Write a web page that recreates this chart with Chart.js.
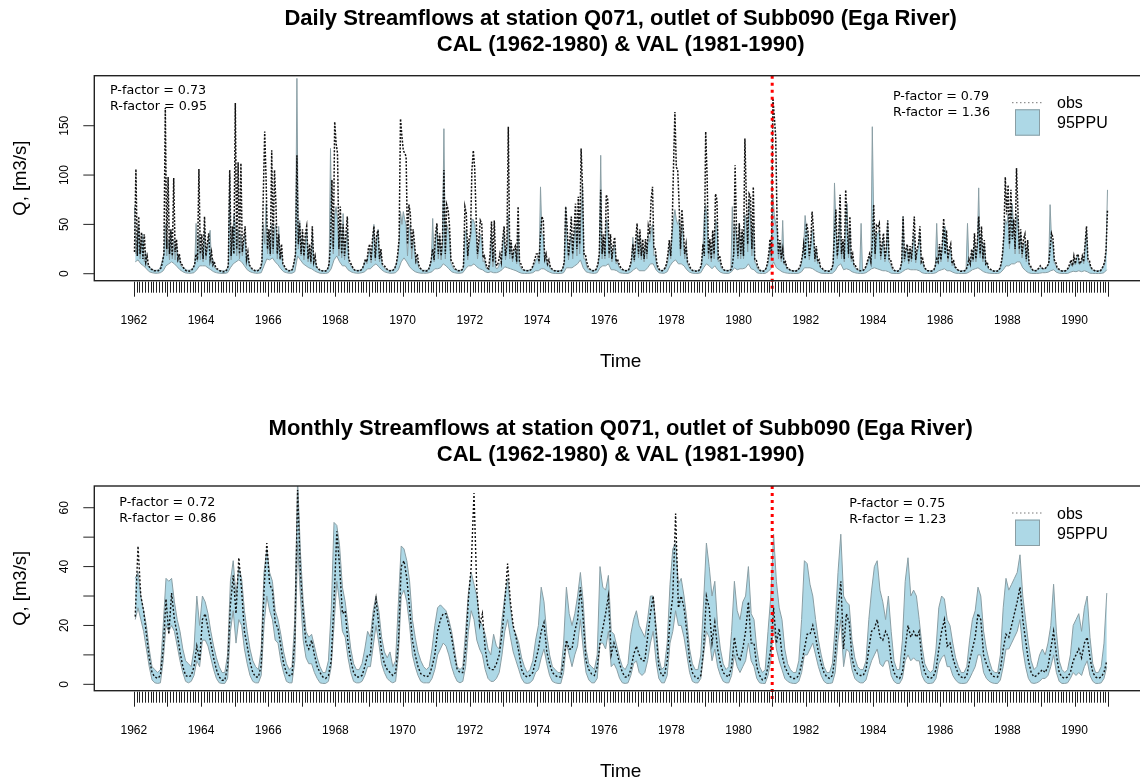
<!DOCTYPE html>
<html lang="en">
<head>
    <meta charset="UTF-8">
    <title>Streamflows Q071 - Ega River</title>
    <script src="https://cdn.jsdelivr.net/npm/chart.js"></script>
    <style>
        body, html {
            margin: 0;
            padding: 0;
            background: #fff;
            overflow: hidden;
            width: 1140px;
            height: 782px;
        }
        canvas {
            position: absolute;
            left: 0;
        }
        #daily { top: 0; }
        #monthly { top: 391px; }
    </style>
</head>
<body>
    <canvas id="daily" width="1160" height="391"></canvas>
    <canvas id="monthly" width="1160" height="391"></canvas>

    <script>
        // ---- data ----
        const firstYear = 1962;
        const splitYear = 1981;   // start of validation period
        const yearLabels = [1962, 1964, 1966, 1968, 1970, 1972, 1974, 1976, 1978, 1980, 1982, 1984, 1986, 1988, 1990];

        const dailyTitle = ['Daily Streamflows at station Q071, outlet of Subb090 (Ega River)', 'CAL (1962-1980) & VAL (1981-1990)'];
        const monthlyTitle = ['Monthly Streamflows at station Q071, outlet of Subb090 (Ega River)', 'CAL (1962-1980) & VAL (1981-1990)'];
        const dailyStats = ['P-factor = 0.73', 'R-factor = 0.95', 'P-factor = 0.79', 'R-factor = 1.36'];
        const monthlyStats = ['P-factor = 0.72', 'R-factor = 0.86', 'P-factor = 0.75', 'R-factor = 1.23'];
        const legendLabels = ['obs', '95PPU'];

        const dailyYTicks = [0, 50, 100, 150];
        const dailyYLabels = ['0', '50', '100', '150'];
        const monthlyYTicks = [0, 10, 20, 30, 40, 50, 60];
        const monthlyYLabels = ['0', '', '20', '', '40', '', '60'];

        // daily flows, one row per year (half-month steps), m3/s
        const dailyObs = [
            [22, 106, 18, 58, 20, 42, 15, 40, 12, 18, 8, 6, 4.5, 4, 3, 3, 3, 3, 4, 6, 12, 20, 168, 25],
            [98, 20, 45, 18, 97, 22, 35, 15, 20, 10, 9, 6, 4, 3, 3, 2.5, 3, 4, 6, 10, 20, 14, 106, 20],
            [40, 15, 58, 18, 30, 41, 14, 22, 9, 12, 6, 5, 4, 3, 2.5, 2, 2, 2.5, 4, 8, 105, 18, 48, 20],
            [173, 25, 113, 20, 112, 22, 35, 48, 14, 22, 9, 7, 5, 4, 3, 3, 3, 4, 6, 12, 81, 144, 95, 25],
            [45, 20, 125, 25, 105, 71, 20, 40, 15, 30, 10, 8, 5, 4, 3, 3, 3, 5, 12, 20, 120, 30, 51, 20],
            [45, 18, 40, 48, 15, 30, 12, 48, 12, 18, 7, 6, 4, 3, 3, 2.5, 2.5, 3, 5, 10, 30, 95, 25, 154],
            [132, 122, 25, 68, 20, 50, 18, 40, 58, 15, 12, 9, 6, 4, 3, 3, 3, 3, 4, 6, 10, 15, 12, 25],
            [30, 14, 35, 48, 16, 40, 44, 15, 25, 10, 9, 7, 5, 4, 3, 3, 3, 4, 6, 10, 20, 35, 157, 139],
            [125, 122, 119, 30, 70, 61, 25, 45, 31, 14, 20, 9, 6, 4, 3, 3, 2.5, 3, 4, 8, 15, 25, 14, 40],
            [51, 20, 41, 18, 35, 105, 20, 70, 65, 48, 14, 12, 8, 5, 4, 3, 3, 3, 4, 8, 68, 61, 18, 35],
            [40, 105, 125, 107, 58, 20, 35, 54, 51, 16, 18, 10, 6, 5, 20, 53, 12, 54, 10, 8, 12, 20, 12, 35],
            [48, 18, 30, 149, 20, 34, 15, 25, 28, 12, 68, 12, 10, 6, 4, 3, 3, 3, 3, 4, 6, 10, 15, 20],
            [20, 12, 40, 58, 54, 15, 20, 10, 14, 7, 5, 4, 3, 3, 2.5, 2.5, 2.5, 3, 6, 12, 68, 48, 18, 35],
            [58, 20, 45, 71, 25, 78, 30, 127, 88, 20, 20, 12, 7, 5, 4, 3, 3, 3, 5, 10, 20, 85, 20, 40],
            [18, 80, 75, 20, 40, 15, 30, 37, 12, 15, 10, 7, 5, 4, 3, 3, 3, 4, 8, 15, 30, 14, 35, 51],
            [20, 45, 18, 35, 15, 35, 20, 48, 40, 75, 88, 25, 25, 12, 6, 4, 3, 3, 4, 6, 10, 20, 34, 18],
            [45, 108, 164, 108, 105, 71, 25, 65, 45, 20, 30, 12, 10, 6, 4, 3, 3, 2.5, 2.5, 3, 5, 10, 30, 18],
            [144, 98, 20, 35, 15, 44, 20, 81, 75, 16, 18, 10, 6, 4, 3, 3, 3, 3, 4, 8, 20, 110, 44, 18],
            [51, 20, 45, 18, 137, 78, 30, 81, 78, 25, 88, 15, 15, 8, 5, 3, 2.5, 2.5, 3, 5, 10, 20, 35, 18],
            [178, 159, 139, 51, 20, 34, 15, 25, 10, 12, 6, 6, 4, 3, 3, 2.5, 2.5, 3, 4, 6, 10, 18, 30, 15],
            [51, 44, 18, 30, 63, 44, 15, 28, 12, 14, 7, 6, 4, 3, 3, 2.5, 2.5, 3, 5, 10, 40, 65, 18, 35],
            [80, 20, 35, 15, 85, 50, 20, 58, 15, 20, 8, 8, 5, 4, 3, 3, 3, 4, 6, 10, 15, 20, 12, 30],
            [70, 20, 49, 47, 51, 18, 30, 41, 15, 25, 54, 15, 15, 8, 5, 3, 2.5, 2.5, 3, 5, 12, 58, 15, 25],
            [30, 12, 28, 15, 35, 58, 14, 25, 30, 48, 12, 15, 8, 5, 3, 3, 2.5, 2.5, 3, 4, 8, 15, 12, 30],
            [14, 30, 56, 20, 44, 15, 25, 30, 10, 14, 7, 6, 4, 3, 2.5, 2.5, 2.5, 3, 4, 8, 15, 10, 25, 14],
            [41, 15, 30, 58, 20, 48, 15, 34, 10, 12, 6, 5, 4, 3, 2.5, 2.5, 2.5, 3, 5, 10, 20, 40, 98, 60],
            [90, 30, 85, 35, 55, 25, 107, 65, 25, 45, 20, 35, 40, 15, 34, 10, 8, 5, 3, 3, 3, 4, 6, 8],
            [6, 5, 5, 6, 8, 10, 25, 41, 37, 14, 12, 6, 5, 4, 3, 2.5, 2.5, 3, 4, 6, 10, 14, 8, 18],
            [10, 18, 20, 10, 12, 18, 12, 30, 48, 15, 14, 7, 5, 4, 3, 2.5, 2.5, 3, 3, 5, 8, 12, 25, 65]
        ];

        const dailyUpper = [
            [68, 20, 40, 48, 15, 30, 40, 12, 22, 8, 8, 6, 5, 4, 3.5, 3.5, 3.5, 4, 5, 9, 14, 20, 50, 18],
            [35, 14, 44, 15, 35, 14, 30, 12, 18, 8, 7, 6, 5, 4, 3.5, 3.5, 4, 5, 6, 9, 51, 12, 40, 14],
            [28, 12, 45, 14, 26, 35, 44, 10, 15, 7, 5, 4, 3.5, 3, 3, 3, 3, 3.5, 5, 8, 100, 14, 35, 60],
            [50, 18, 45, 15, 40, 18, 30, 40, 12, 18, 8, 6, 4, 3.5, 3.5, 3.5, 3.5, 4, 5, 9, 50, 30, 71, 20],
            [40, 18, 50, 20, 45, 50, 15, 48, 14, 22, 9, 6, 5, 4, 3.5, 3.5, 3.5, 5, 10, 18, 198, 25, 54, 18],
            [40, 14, 30, 45, 12, 25, 10, 40, 10, 15, 6, 5, 3.5, 3.5, 3, 3, 3, 3.5, 5, 9, 127, 40, 20, 60],
            [68, 55, 18, 50, 16, 61, 14, 30, 45, 11, 10, 7, 5, 4, 3.5, 3.5, 3.5, 3.5, 4, 6, 9, 14, 10, 20],
            [25, 11, 30, 50, 13, 35, 45, 12, 22, 8, 7, 5, 4, 3.5, 3.5, 3.5, 3.5, 4, 6, 10, 15, 30, 63, 50],
            [63, 55, 50, 18, 45, 50, 15, 35, 25, 10, 14, 6, 5, 4, 3.5, 3.5, 3.5, 3.5, 5, 8, 12, 56, 12, 34],
            [48, 15, 38, 14, 30, 147, 15, 50, 45, 38, 11, 8, 5, 4, 3.5, 3.5, 3.5, 3.5, 4, 6, 40, 45, 14, 30],
            [35, 55, 55, 50, 40, 15, 28, 40, 35, 12, 14, 6, 5, 4, 10, 40, 7, 25, 6, 5, 7, 11, 10, 28],
            [40, 14, 25, 60, 15, 30, 12, 22, 25, 10, 40, 9, 6, 4, 3.5, 3.5, 3.5, 3.5, 3.5, 4, 5, 8, 11, 15],
            [16, 10, 88, 40, 38, 12, 16, 8, 10, 5, 4, 3.5, 3, 3, 3, 3, 3, 3.5, 6, 10, 68, 35, 14, 30],
            [40, 15, 38, 50, 18, 55, 20, 60, 90, 15, 15, 7, 5, 4, 3.5, 3.5, 3.5, 3.5, 5, 8, 18, 120, 15, 32],
            [15, 55, 50, 16, 32, 12, 25, 30, 10, 12, 7, 5, 4, 3.5, 3.5, 3.5, 3.5, 4, 7, 11, 37, 12, 28, 40],
            [16, 38, 14, 28, 12, 30, 15, 40, 32, 45, 50, 18, 20, 7, 5, 3.5, 3.5, 3.5, 4, 5, 8, 13, 30, 15],
            [40, 55, 65, 55, 50, 55, 18, 50, 38, 15, 26, 10, 7, 5, 3.5, 3.5, 3.5, 3, 3, 3.5, 5, 8, 25, 60],
            [70, 55, 15, 30, 12, 40, 15, 55, 50, 12, 14, 6, 5, 3.5, 3.5, 3.5, 3.5, 3.5, 5, 68, 18, 50, 38, 15],
            [51, 15, 40, 15, 60, 55, 22, 75, 55, 18, 50, 12, 10, 5, 4, 3.5, 3, 3, 3.5, 5, 8, 13, 30, 15],
            [80, 60, 50, 45, 15, 30, 12, 54, 9, 10, 5, 5, 3.5, 3.5, 3, 3, 3, 3.5, 4, 5, 8, 15, 28, 59],
            [45, 40, 14, 28, 45, 40, 12, 25, 10, 12, 6, 5, 3.5, 3.5, 3, 3, 3, 3.5, 5, 8, 92, 50, 15, 32],
            [60, 15, 32, 12, 60, 71, 16, 45, 12, 16, 7, 6, 4, 3.5, 3.5, 51, 4, 4, 5, 8, 12, 18, 10, 149],
            [55, 15, 42, 40, 45, 14, 26, 35, 12, 22, 54, 12, 10, 5, 3.5, 3.5, 3, 3, 3.5, 5, 10, 58, 12, 22],
            [28, 10, 25, 12, 30, 40, 11, 22, 26, 40, 10, 12, 6, 4, 3.5, 3, 3, 3, 3.5, 4, 7, 51, 10, 28],
            [12, 28, 45, 48, 38, 12, 22, 26, 8, 12, 6, 5, 3.5, 3.5, 3, 3, 3, 3.5, 5, 51, 12, 9, 22, 12],
            [35, 12, 28, 87, 16, 40, 12, 30, 9, 10, 5, 4, 3.5, 3, 3, 3, 3, 3.5, 5, 8, 16, 35, 55, 50],
            [60, 25, 60, 71, 45, 20, 60, 55, 20, 40, 16, 30, 32, 12, 28, 8, 6, 4, 3.5, 3.5, 3.5, 4, 5, 6],
            [6, 5, 5, 6, 8, 10, 70, 35, 30, 11, 9, 5, 4, 3.5, 3, 3, 3, 3, 3.5, 5, 8, 11, 7, 15],
            [9, 16, 18, 9, 11, 16, 10, 28, 44, 12, 11, 6, 4, 3.5, 3, 3, 3, 3, 3.5, 5, 7, 10, 22, 85]
        ];

        // lower 95PPU bound of the daily run, monthly steps
        const dailyLower = [
            [12, 14, 10, 8, 5, 2, 1, 0.5, 0.5, 1, 3, 8],
            [10, 12, 10, 7, 4, 2, 0.8, 0.5, 0.5, 1, 4, 8],
            [8, 8, 6, 4, 2, 1, 0.5, 0.3, 0.3, 1, 6, 10],
            [12, 14, 12, 8, 4, 2, 1, 0.5, 0.5, 1, 8, 15],
            [14, 16, 12, 9, 5, 2, 1, 0.5, 0.5, 2, 18, 14],
            [10, 8, 6, 5, 3, 1.5, 0.5, 0.3, 0.3, 1, 5, 14],
            [18, 12, 8, 8, 4, 2, 1, 0.5, 0.5, 1, 2, 5],
            [5, 8, 10, 7, 4, 2, 1, 0.5, 0.5, 1, 4, 12],
            [16, 12, 7, 4, 2, 1, 0.5, 0.5, 0.5, 1, 2, 5],
            [5, 6, 10, 8, 5, 2, 1, 0.5, 0.5, 1, 5, 8],
            [8, 10, 7, 5, 4, 2, 1, 2, 1, 1, 2, 4],
            [7, 6, 5, 4, 3, 1.5, 0.5, 0.3, 0.3, 0.5, 1, 3],
            [3, 5, 5, 3, 1.5, 0.5, 0.3, 0.2, 0.2, 1, 6, 6],
            [6, 8, 10, 14, 6, 2, 1, 0.5, 0.3, 1, 6, 8],
            [8, 10, 4, 4, 3, 1, 0.5, 0.3, 0.3, 1.5, 4, 6],
            [3, 3, 3, 6, 10, 10, 4, 1, 0.5, 0.5, 2, 8],
            [12, 14, 10, 10, 8, 4, 1.5, 0.5, 0.3, 0.3, 1, 6],
            [10, 8, 5, 8, 4, 1.5, 0.5, 0.3, 0.3, 2, 6, 4],
            [5, 5, 6, 10, 5, 4, 1, 0.3, 0.2, 0.3, 2, 5],
            [12, 6, 4, 2, 1, 0.5, 0.3, 0.2, 0.2, 0.5, 2, 6],
            [6, 6, 5, 3, 1.5, 0.5, 0.3, 0.2, 0.2, 0.5, 3, 8],
            [10, 4, 5, 4, 2, 1, 0.4, 0.3, 0.3, 1, 3, 5],
            [6, 5, 4, 3, 3, 2, 0.5, 0.3, 0.2, 0.3, 2, 4],
            [5, 4, 4, 4, 3, 1, 0.3, 0.2, 0.2, 0.3, 1, 3],
            [4, 5, 3, 3, 1.5, 0.5, 0.3, 0.2, 0.2, 0.5, 2, 4],
            [5, 6, 4, 2, 1, 0.5, 0.3, 0.2, 0.2, 1, 4, 8],
            [8, 10, 10, 12, 12, 6, 3, 1, 0.3, 0.2, 0.3, 0.5],
            [1, 1, 1.5, 3, 4, 1.5, 0.5, 0.2, 0.2, 0.3, 1.5, 2.5],
            [2, 3, 2, 3, 2, 0.5, 0.3, 0.2, 0.2, 0.3, 1, 4]
        ];

        // monthly mean flows, one row per year (Jan..Dec), m3/s
        const monthlyObs = [
            [23, 47, 30, 25, 17, 9, 4, 2.5, 2, 3, 12, 29],
            [17, 31, 22, 17, 11, 6, 3, 2.5, 3, 6, 13, 8],
            [22, 24, 19, 14, 9, 5, 2.5, 1.4, 1.4, 6, 27, 37],
            [24, 43, 32, 18, 13, 7.6, 4, 2.5, 2.5, 6.4, 32, 48],
            [34, 32, 21, 19, 13, 7, 4, 3, 3, 15, 66, 38],
            [24, 14, 12, 15, 10, 6, 4, 2.5, 2, 3, 8, 28],
            [52, 40, 24, 25, 14, 8, 4, 2.5, 2.5, 3, 6, 10],
            [10, 22, 29, 20, 11, 7, 5, 4, 3, 4, 14, 40],
            [42, 36, 26, 15, 10, 6, 3.6, 3, 2.5, 3, 6, 10],
            [18, 22, 24, 24, 20, 16, 10, 5, 4, 4, 12, 29],
            [40, 65, 32, 20, 24, 12, 6, 5, 5, 7, 10, 17],
            [28, 41, 28, 20, 16, 11, 5, 3, 2.5, 3, 4, 8],
            [12, 18, 21, 11, 7, 4, 3, 2.5, 2.5, 8, 15, 12],
            [12, 18, 22, 33, 22, 8, 5, 3.5, 3, 6, 14, 19],
            [24, 30, 10, 14, 11, 7, 4, 2.5, 2.5, 5, 10, 13],
            [10, 8, 8, 16, 24, 30, 18, 6, 3, 3, 8, 22],
            [30, 58, 26, 30, 26, 18, 8, 4, 2.5, 2, 3, 12],
            [30, 26, 14, 21, 12, 7, 4, 3, 2.5, 6, 16, 10],
            [8, 12, 18, 28, 14, 14, 6, 3, 1.5, 2, 6, 12],
            [26, 14, 19, 10, 6, 4, 2.5, 2, 2, 3, 7, 12],
            [17, 17, 20, 16, 11, 7, 4, 2.5, 2, 3, 10, 25],
            [35, 12, 24, 21, 9, 5, 3.5, 3, 3, 5, 12, 18],
            [19, 22, 16, 15, 18, 16, 8, 4, 2.5, 2, 4, 12],
            [20, 16, 18, 16, 18, 8, 4, 2.5, 2, 2.5, 5, 12],
            [18, 22, 13, 14, 9, 6, 3.5, 2.5, 2, 3, 8, 12],
            [16, 24, 22, 10, 7, 5, 3, 2.5, 2.5, 5, 12, 17],
            [16, 20, 24, 28, 33, 22, 15, 8, 4, 2.5, 3, 4],
            [5, 4, 6, 12, 18, 10, 4, 2.5, 2, 2.5, 4, 8],
            [10, 12, 9, 14, 16, 9, 4, 2.5, 2, 2.5, 4, 8]
        ];

        const monthlyUpper = [
            [36, 38, 30, 25, 20, 12, 6, 5, 4, 5, 20, 36],
            [35, 36, 28, 22, 18, 12, 8, 7, 6, 12, 30, 20],
            [30, 28, 24, 18, 13, 9, 6, 4, 4, 10, 35, 42],
            [30, 40, 36, 25, 18, 12, 8, 6, 5, 12, 38, 46],
            [38, 35, 25, 22, 17, 11, 7, 5, 6, 22, 70, 45],
            [28, 18, 16, 17, 13, 9, 6, 4, 4, 8, 25, 55],
            [54, 47, 33, 28, 20, 12, 7, 5, 5, 7, 12, 18],
            [16, 25, 30, 25, 16, 11, 9, 11, 6, 8, 28, 47],
            [46, 42, 35, 22, 16, 11, 8, 6, 5, 6, 12, 20],
            [26, 27, 26, 25, 22, 18, 12, 6, 5, 6, 18, 31],
            [38, 34, 30, 22, 20, 17, 12, 10, 17, 13, 12, 22],
            [30, 36, 26, 19, 17, 14, 9, 6, 4, 5, 8, 15],
            [20, 33, 28, 17, 10, 6, 5, 4, 4, 14, 33, 24],
            [20, 24, 30, 38, 28, 12, 7, 6, 5, 10, 40, 33],
            [32, 37, 18, 17, 13, 9, 6, 5, 7, 17, 22, 25],
            [20, 18, 16, 22, 30, 30, 20, 9, 5, 6, 14, 34],
            [46, 48, 34, 36, 30, 22, 12, 7, 5, 5, 10, 28],
            [48, 40, 30, 35, 20, 12, 7, 5, 6, 18, 35, 25],
            [22, 28, 30, 40, 24, 22, 12, 6, 4, 5, 18, 30],
            [51, 35, 26, 22, 12, 7, 5, 4, 4, 8, 22, 42],
            [41, 34, 30, 22, 15, 10, 6, 4, 4, 7, 20, 38],
            [51, 30, 28, 27, 15, 9, 6, 5, 5, 8, 22, 32],
            [40, 42, 32, 28, 22, 30, 18, 8, 5, 5, 15, 35],
            [43, 30, 32, 30, 22, 13, 7, 5, 4, 5, 12, 26],
            [30, 29, 22, 20, 14, 9, 6, 4, 4, 6, 15, 22],
            [25, 33, 30, 18, 12, 8, 5, 4, 4, 10, 26, 36],
            [32, 34, 36, 38, 44, 30, 22, 14, 8, 5, 6, 10],
            [12, 10, 14, 20, 34, 18, 8, 5, 4, 5, 10, 20],
            [22, 24, 18, 26, 30, 16, 7, 4, 4, 6, 14, 31]
        ];

        const monthlyLower = [
            [22, 26, 22, 18, 12, 6, 1.5, 0.5, 0.3, 0.5, 8, 20],
            [18, 20, 18, 13, 8, 4, 1, 0.5, 1, 3, 8, 6],
            [15, 15, 13, 9, 5, 2, 0.5, 0.3, 0.3, 2, 18, 25],
            [14, 22, 20, 12, 7, 3, 1, 0.5, 0.5, 3, 20, 30],
            [25, 22, 15, 14, 8, 4, 1, 0.5, 0.5, 8, 48, 30],
            [15, 9, 7, 7, 4, 2, 0.5, 0.3, 0.3, 1, 6, 20],
            [35, 28, 18, 16, 9, 4, 1, 0.5, 0.5, 1, 3, 6],
            [6, 13, 20, 14, 7, 4, 2, 1, 0.5, 1, 10, 30],
            [32, 28, 20, 10, 6, 3, 1, 0.5, 0.5, 0.5, 2, 5],
            [10, 12, 14, 13, 10, 6, 3, 1, 0.5, 1, 6, 18],
            [25, 22, 15, 12, 10, 5, 2, 1, 1, 2, 4, 10],
            [18, 22, 16, 11, 8, 5, 2, 0.5, 0.3, 0.5, 1.5, 4],
            [5, 9, 12, 7, 3, 1, 0.5, 0.3, 0.3, 4, 14, 10],
            [6, 10, 13, 22, 12, 4, 1.5, 0.5, 0.5, 2, 14, 14],
            [12, 18, 6, 7, 5, 2, 0.5, 0.3, 0.5, 3, 7, 8],
            [4, 3, 4, 8, 14, 18, 8, 2, 0.5, 0.5, 3, 14],
            [18, 25, 20, 20, 16, 10, 4, 1, 0.5, 0.5, 2, 10],
            [18, 16, 8, 12, 6, 3, 1, 0.5, 0.5, 3, 10, 6],
            [4, 6, 8, 14, 8, 6, 2, 0.5, 0.3, 0.3, 3, 8],
            [20, 12, 8, 5, 2, 1, 0.5, 0.3, 0.3, 1, 4, 10],
            [10, 12, 14, 10, 6, 3, 1, 0.3, 0.3, 0.5, 4, 15],
            [22, 6, 12, 11, 5, 2, 1, 0.5, 0.5, 1.5, 5, 8],
            [10, 12, 7, 6, 8, 8, 3, 1, 0.3, 0.3, 2, 8],
            [10, 8, 9, 8, 8, 3, 1, 0.3, 0.3, 0.5, 2, 7],
            [9, 10, 6, 6, 3, 1.5, 0.5, 0.3, 0.3, 0.5, 2, 4],
            [6, 10, 10, 4, 2, 1, 0.5, 0.3, 0.3, 1.5, 6, 12],
            [12, 14, 16, 18, 22, 12, 6, 2, 0.5, 0.3, 0.5, 1],
            [2, 2, 3, 6, 10, 4, 1, 0.3, 0.3, 0.5, 2, 4],
            [3, 4, 3, 6, 8, 3, 1, 0.3, 0.3, 0.5, 2, 6]
        ];

        // ---- helpers ----
        const sans = '"Liberation Sans", Arial, Helvetica, sans-serif';
        const bandFill = '#add8e6';
        const bandEdge = '#8a9ea4';

        // one row per year -> {x: decimal year, y}
        function toPoints(rows) {
            const pts = [];
            rows.forEach((row, i) => {
                row.forEach((v, k) => {
                    pts.push({ x: firstYear + i + (k + 0.5) / row.length, y: v });
                });
            });
            return pts;
        }

        function line(ctx, x1, y1, x2, y2) {
            ctx.beginPath();
            ctx.moveTo(x1, y1);
            ctx.lineTo(x2, y2);
            ctx.stroke();
        }

        // frame, axes, texts and legend in the style of base R graphics
        const rFrame = {
            id: 'rFrame',
            afterDraw(chart, args, o) {
                const { ctx, chartArea: a, scales: { x, y } } = chart;
                const midX = (a.left + a.right) / 2;
                const midY = (a.top + a.bottom) / 2;
                ctx.save();

                // split between calibration and validation
                ctx.strokeStyle = '#ff0000';
                ctx.lineWidth = 3;
                ctx.setLineDash([3, 4]);
                const sx = x.getPixelForValue(splitYear);
                line(ctx, sx, a.top, sx, a.bottom + 12);
                ctx.setLineDash([]);

                // box
                ctx.strokeStyle = '#222';
                ctx.lineWidth = 1.4;
                ctx.strokeRect(a.left, a.top, a.right - a.left, a.bottom - a.top);

                // y axis
                ctx.lineWidth = 1;
                ctx.fillStyle = '#000';
                ctx.font = '12px ' + sans;
                ctx.textAlign = 'center';
                ctx.textBaseline = 'middle';
                o.yTicks.forEach((v, i) => {
                    const py = y.getPixelForValue(v);
                    line(ctx, a.left - 11, py, a.left, py);
                    if (o.yLabels[i]) {
                        ctx.save();
                        ctx.translate(a.left - 30, py);
                        ctx.rotate(-Math.PI / 2);
                        ctx.fillText(o.yLabels[i], 0, 0);
                        ctx.restore();
                    }
                });

                // x axis: month ticks, longer year ticks
                for (let yr = firstYear; yr <= 1991; yr++) {
                    for (let m = 0; m < 12; m++) {
                        const t = yr + m / 12;
                        if (t > 1991) break;
                        const px = Math.round(x.getPixelForValue(t)) + 0.5;
                        line(ctx, px, a.bottom + 1, px, a.bottom + (m === 0 ? 16 : 12));
                    }
                }
                yearLabels.forEach(yr => {
                    ctx.fillText(String(yr), x.getPixelForValue(yr), a.bottom + 39.5);
                });

                // axis titles
                ctx.font = '19px ' + sans;
                ctx.fillText('Time', midX, a.bottom + 81);
                ctx.font = '18.5px ' + sans;
                ctx.save();
                ctx.translate(21, midY);
                ctx.rotate(-Math.PI / 2);
                ctx.fillText('Q, [m3/s]', 0, 0);
                ctx.restore();

                // main title
                ctx.font = 'bold 22px ' + sans;
                ctx.fillText(o.title[0], midX, a.top - 56.7);
                ctx.fillText(o.title[1], midX, a.top - 30.7);

                // goodness-of-fit notes
                ctx.font = '12.7px "DejaVu Sans", sans-serif';
                ctx.textAlign = 'left';
                ctx.fillText(o.stats[0], o.statsLeft[0], a.top + o.statsLeft[1]);
                ctx.fillText(o.stats[1], o.statsLeft[0], a.top + o.statsLeft[1] + 15.5);
                ctx.fillText(o.stats[2], o.statsRight[0], a.top + o.statsRight[1]);
                ctx.fillText(o.stats[3], o.statsRight[0], a.top + o.statsRight[1] + 15.5);

                // legend
                ctx.strokeStyle = '#777';
                ctx.lineWidth = 1;
                ctx.setLineDash([1.5, 2.5]);
                line(ctx, 1012, a.top + 27, 1042, a.top + 27);
                ctx.setLineDash([]);
                ctx.fillStyle = bandFill;
                ctx.fillRect(1015, a.top + 33.6, 25, 26.4);
                ctx.strokeStyle = bandEdge;
                ctx.strokeRect(1015.5, a.top + 34.1, 24, 25.4);
                ctx.fillStyle = '#000';
                ctx.font = '16px ' + sans;
                ctx.fillText(legendLabels[0], 1057, a.top + 28.3);
                ctx.fillText(legendLabels[1], 1057, a.top + 48.3);

                ctx.restore();
            }
        };

        function makeChart(id, p) {
            return new Chart(document.getElementById(id), {
                type: 'line',
                data: {
                    datasets: [
                        {   // lower 95PPU
                            data: toPoints(p.lower),
                            borderColor: bandEdge,
                            borderWidth: 1,
                            pointRadius: 0,
                            fill: false,
                            order: 2
                        },
                        {   // upper 95PPU, filled down to the lower bound
                            data: toPoints(p.upper),
                            borderColor: bandEdge,
                            borderWidth: 1,
                            backgroundColor: bandFill,
                            pointRadius: 0,
                            fill: '-1',
                            order: 1
                        },
                        {   // observed
                            data: toPoints(p.obs),
                            borderColor: '#111',
                            borderWidth: p.obsWidth,
                            borderDash: p.obsDash,
                            pointRadius: 0,
                            fill: false,
                            order: 0
                        }
                    ]
                },
                options: {
                    responsive: false,
                    animation: false,
                    devicePixelRatio: 1,
                    layout: { padding: p.padding },
                    elements: { line: { tension: 0 } },
                    scales: {
                        x: { type: 'linear', min: 1960.824, max: 1992.155, display: false },
                        y: { type: 'linear', min: p.yMin, max: p.yMax, display: false }
                    },
                    plugins: {
                        legend: { display: false },
                        tooltip: { enabled: false },
                        filler: { drawTime: 'beforeDatasetsDraw' },
                        rFrame: {
                            title: p.title,
                            stats: p.stats,
                            statsLeft: p.statsLeft,
                            statsRight: p.statsRight,
                            yTicks: p.yTicks,
                            yLabels: p.yLabels
                        }
                    }
                },
                plugins: [rFrame]
            });
        }

        makeChart('daily', {
            obs: dailyObs, upper: dailyUpper, lower: dailyLower,
            obsWidth: 1.5, obsDash: [2, 1.5],
            yMin: -7.09, yMax: 200.7,
            yTicks: dailyYTicks, yLabels: dailyYLabels,
            title: dailyTitle, stats: dailyStats,
            statsLeft: [110, 15], statsRight: [893, 21],
            padding: { left: 94.3, top: 75.7, right: 13, bottom: 110.3 }
        });

        makeChart('monthly', {
            obs: monthlyObs, upper: monthlyUpper, lower: monthlyLower,
            obsWidth: 1.4, obsDash: [2, 2],
            yMin: -2.17, yMax: 67.38,
            yTicks: monthlyYTicks, yLabels: monthlyYLabels,
            title: monthlyTitle, stats: monthlyStats,
            statsLeft: [119.3, 16.7], statsRight: [849.3, 18],
            padding: { left: 94.3, top: 95, right: 13, bottom: 91.3 }
        });
    </script>
</body>
</html>
